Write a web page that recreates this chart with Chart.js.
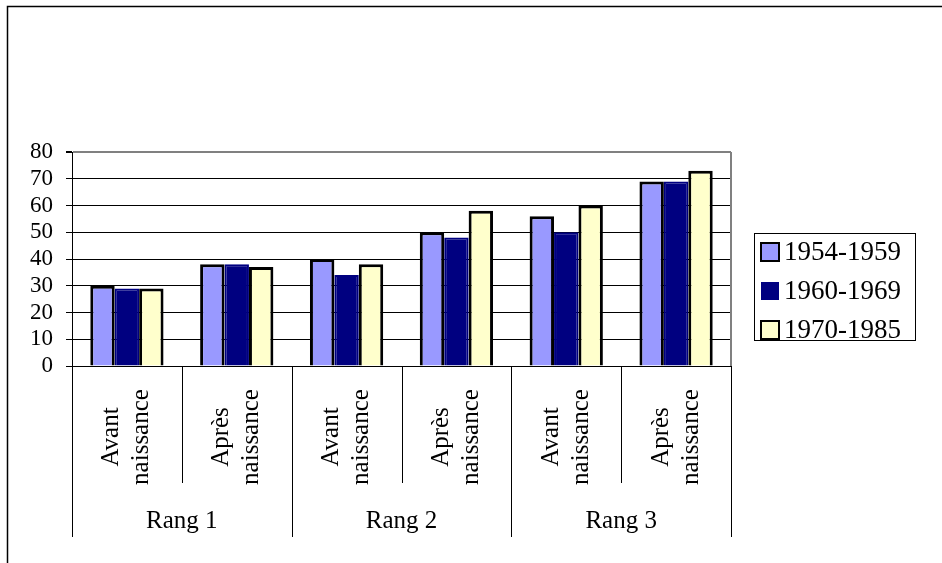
<!DOCTYPE html>
<html>
<head>
<meta charset="utf-8">
<script src="https://cdn.jsdelivr.net/npm/chart.js@4"></script>
<style>
  html, body { margin: 0; padding: 0; background: #fff; }
  #wrap { width: 942px; height: 563px; position: relative; }
</style>
</head>
<body>
<div id="wrap"><canvas id="chart" width="942" height="563"></canvas></div>
<script>
// data
const subLabels = [["Avant", "naissance"], ["Après", "naissance"], ["Avant", "naissance"], ["Après", "naissance"], ["Avant", "naissance"], ["Après", "naissance"]];
const groupLabels = ["Rang 1", "Rang 2", "Rang 3"];
const serieNames = ["1954-1959", "1960-1969", "1970-1985"];
const s1954 = [30, 38, 40, 50, 56, 69];
const s1960 = [29, 38, 34, 48, 50, 69];
const s1970 = [29, 37, 38, 58, 60, 73];
const yTicks = [0, 10, 20, 30, 40, 50, 60, 70, 80];

const FONT = "'Liberation Serif', 'Times New Roman', serif";
const colors = ["#9999ff", "#000080", "#ffffcc"];
const borders = ["#000000", "#000080", "#000000"];
const borderW = [3, 2, 3];

// frame, category axis and legend drawn by hand, excel style
const excelBits = {
  id: "excelBits",
  afterDraw(chart) {
    const ctx = chart.ctx;
    const area = chart.chartArea;
    const x = chart.scales.x;
    ctx.save();
    // outer frame (top + left only)
    ctx.strokeStyle = "#000";
    ctx.lineWidth = 1.5;
    ctx.beginPath();
    ctx.moveTo(7.5, 563);
    ctx.lineTo(7.5, 6.5);
    ctx.lineTo(942, 6.5);
    ctx.stroke();

    // right border of plot
    ctx.strokeStyle = "#808080";
    ctx.lineWidth = 2;
    ctx.beginPath();
    ctx.moveTo(area.right, area.top);
    ctx.lineTo(area.right, area.bottom);
    ctx.stroke();

    // category separators
    const n = subLabels.length;
    const step = x.getPixelForValue(1) - x.getPixelForValue(0);
    ctx.strokeStyle = "#000";
    ctx.lineWidth = 1;
    for (let i = 0; i <= n; i++) {
      const px = Math.round(x.getPixelForValue(i) - step / 2) + 0.5;
      const major = i % 2 === 0;
      ctx.beginPath();
      ctx.moveTo(px, area.bottom);
      ctx.lineTo(px, major ? 537 : 483);
      ctx.stroke();
    }

    // rotated sub labels
    ctx.fillStyle = "#000";
    ctx.font = "25px " + FONT;
    ctx.textAlign = "center";
    ctx.textBaseline = "middle";
    subLabels.forEach(function (lines, i) {
      const cx = x.getPixelForValue(i);
      ctx.save();
      ctx.translate(cx, 437);
      ctx.rotate(-Math.PI / 2);
      ctx.fillText(lines[0], 0, -15);
      ctx.fillText(lines[1], 0, 15);
      ctx.restore();
    });

    // group labels
    groupLabels.forEach(function (lbl, g) {
      const cx = (x.getPixelForValue(g * 2) + x.getPixelForValue(g * 2 + 1)) / 2;
      ctx.fillText(lbl, cx, 521);
    });

    // legend
    ctx.strokeStyle = "#000";
    ctx.lineWidth = 1;
    ctx.strokeRect(754.5, 233.5, 161, 107);
    ctx.textAlign = "left";
    ctx.font = "27px " + FONT;
    serieNames.forEach(function (name, i) {
      const cy = 252 + i * 39;
      ctx.fillStyle = colors[i];
      ctx.fillRect(761, cy - 9, 18, 18);
      if (i !== 1) {
        ctx.strokeStyle = "#000";
        ctx.lineWidth = 2;
        ctx.strokeRect(761, cy - 9, 18, 18);
      }
      ctx.fillStyle = "#000";
      ctx.fillText(name, 784, cy + 1);
    });
    ctx.restore();
  }
};

new Chart(document.getElementById("chart"), {
  type: "bar",
  data: {
    labels: subLabels.map(function (l) { return l.join(" "); }),
    datasets: [s1954, s1960, s1970].map(function (d, i) {
      return {
        label: serieNames[i],
        data: d,
        backgroundColor: colors[i],
        borderColor: borders[i],
        borderWidth: borderW[i],
        borderSkipped: "bottom",
        categoryPercentage: 0.667,
        barPercentage: 1.0
      };
    })
  },
  options: {
    responsive: false,
    animation: false,
    devicePixelRatio: 1,
    layout: { padding: { left: 0, top: 152, right: 211, bottom: 197 } },
    plugins: { legend: { display: false }, tooltip: { enabled: false } },
    scales: {
      x: { display: false },
      y: {
        min: 0,
        max: 80,
        afterFit: function (s) { s.width = 72; },
        afterBuildTicks: function (s) { s.ticks = yTicks.map(function (v) { return { value: v }; }); },
        border: { color: "#000", width: 1 },
        grid: {
          color: function (c) { return c.tick && c.tick.value === 80 ? "#808080" : "#000"; },
          lineWidth: function (c) { return c.tick && c.tick.value === 80 ? 2 : 1; },
          tickLength: 6,
          tickColor: "#000"
        },
        ticks: {
          autoSkip: false,
          color: "#000",
          padding: 13,
          font: { family: FONT, size: 23 }
        }
      }
    }
  },
  plugins: [excelBits]
});
</script>
</body>
</html>
